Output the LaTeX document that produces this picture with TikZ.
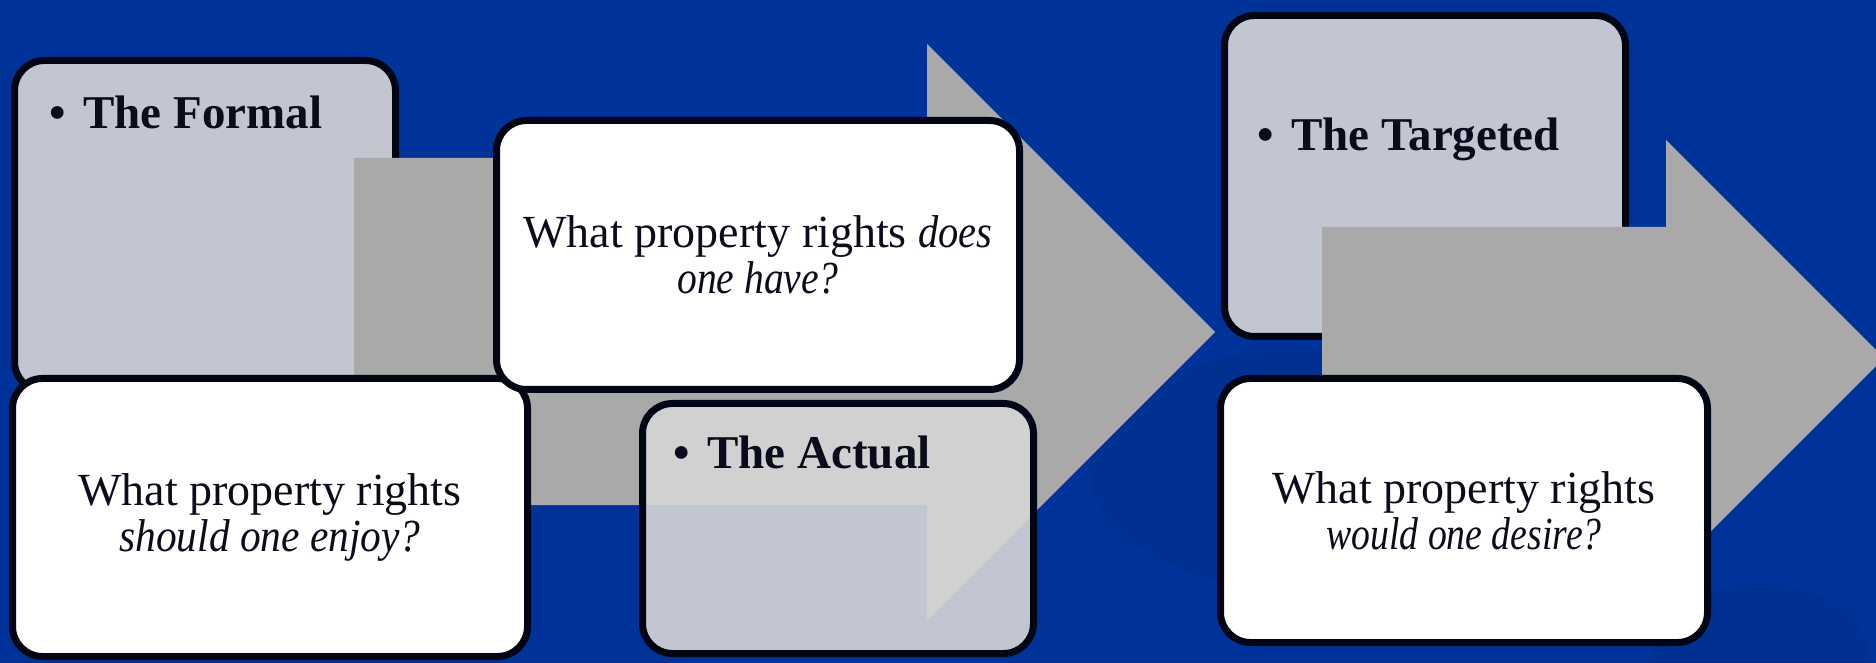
\documentclass[tikz,border=0pt]{standalone}
\usepackage{fontspec}
\setmainfont{Liberation Serif}
\usepackage{graphicx}
\definecolor{bg}{RGB}{0,51,153}
\definecolor{bgdark}{RGB}{0,42,132}
\definecolor{arrowgray}{RGB}{169,169,169}
\definecolor{edge}{RGB}{2,6,20}
\definecolor{ink}{RGB}{10,12,28}
\definecolor{pale}{RGB}{214,214,215}
\newcommand{\ital}[2][0.82]{\scalebox{#1}[1]{\itshape #2}}
\begin{document}
\begin{tikzpicture}[x=0.5pt,y=-0.5pt,
  box/.style={draw=edge, line width=3.5pt, rounded corners=15pt, inner sep=0pt,
    align=center, font=\fontsize{23}{23}\selectfont, text=ink},
  whitebox/.style={box, fill=white},
  texbox/.style={box, fill=pale, fill opacity=0.9, text opacity=1},
  bigarrow/.style={fill=arrowgray, draw=none},
  bullettext/.style={anchor=base west, inner sep=0pt,
    font=\fontsize{23.5}{23.5}\selectfont\bfseries, text=ink},
  swoosh/.style={fill=bgdark, opacity=0.3},
]
\useasboundingbox (0,0) rectangle (1876,663);
\fill[bg] (0,0) rectangle (1876,663);
% faint background swooshes
\fill[swoosh] (1300,470) ellipse [x radius=105pt, y radius=60pt];
\fill[swoosh] (1760,660) ellipse [x radius=55pt, y radius=38pt];

% The Formal
\node[texbox, minimum width=190.5pt, minimum height=165.5pt] (formal) at (205,226) {};
\node[bullettext] (formaltext) at (49,129) {\makebox[17pt][l]{•}The Formal};

% first big arrow
\fill[bigarrow] (354,158) -- (927,158) -- (927,44) -- (1215,332) -- (927,620)
  -- (927,505) -- (354,505) -- cycle;

% should
\node[whitebox, minimum width=257.5pt, minimum height=139pt] (should) at (270,517.5)
  {What property rights\\ \ital[0.9]{should one enjoy?}};
% does
\node[whitebox, minimum width=261.5pt, minimum height=134.5pt] (does) at (758,255)
  {What property rights \ital[0.88]{does}\\ \ital[0.86]{one have?}};

% The Actual
\node[texbox, minimum width=195.5pt, minimum height=125pt] (actual) at (838,528.5) {};
\node[bullettext] (actualtext) at (673,468) {\makebox[17pt][l]{•}The Actual};

% The Targeted
\node[texbox, minimum width=200.5pt, minimum height=160.5pt] (targeted) at (1425,176) {};
\node[bullettext] (targetedtext) at (1257,151) {\makebox[17pt][l]{•}The Targeted};

% second big arrow
\fill[bigarrow] (1322,227) -- (1666,227) -- (1666,140) -- (1884,358) -- (1666,576)
  -- (1666,489) -- (1322,489) -- cycle;

% desire
\node[whitebox, minimum width=243.5pt, minimum height=132pt] (desire) at (1464,510.5)
  {What property rights\\ \ital{would one desire?}};
\end{tikzpicture}
\end{document}
